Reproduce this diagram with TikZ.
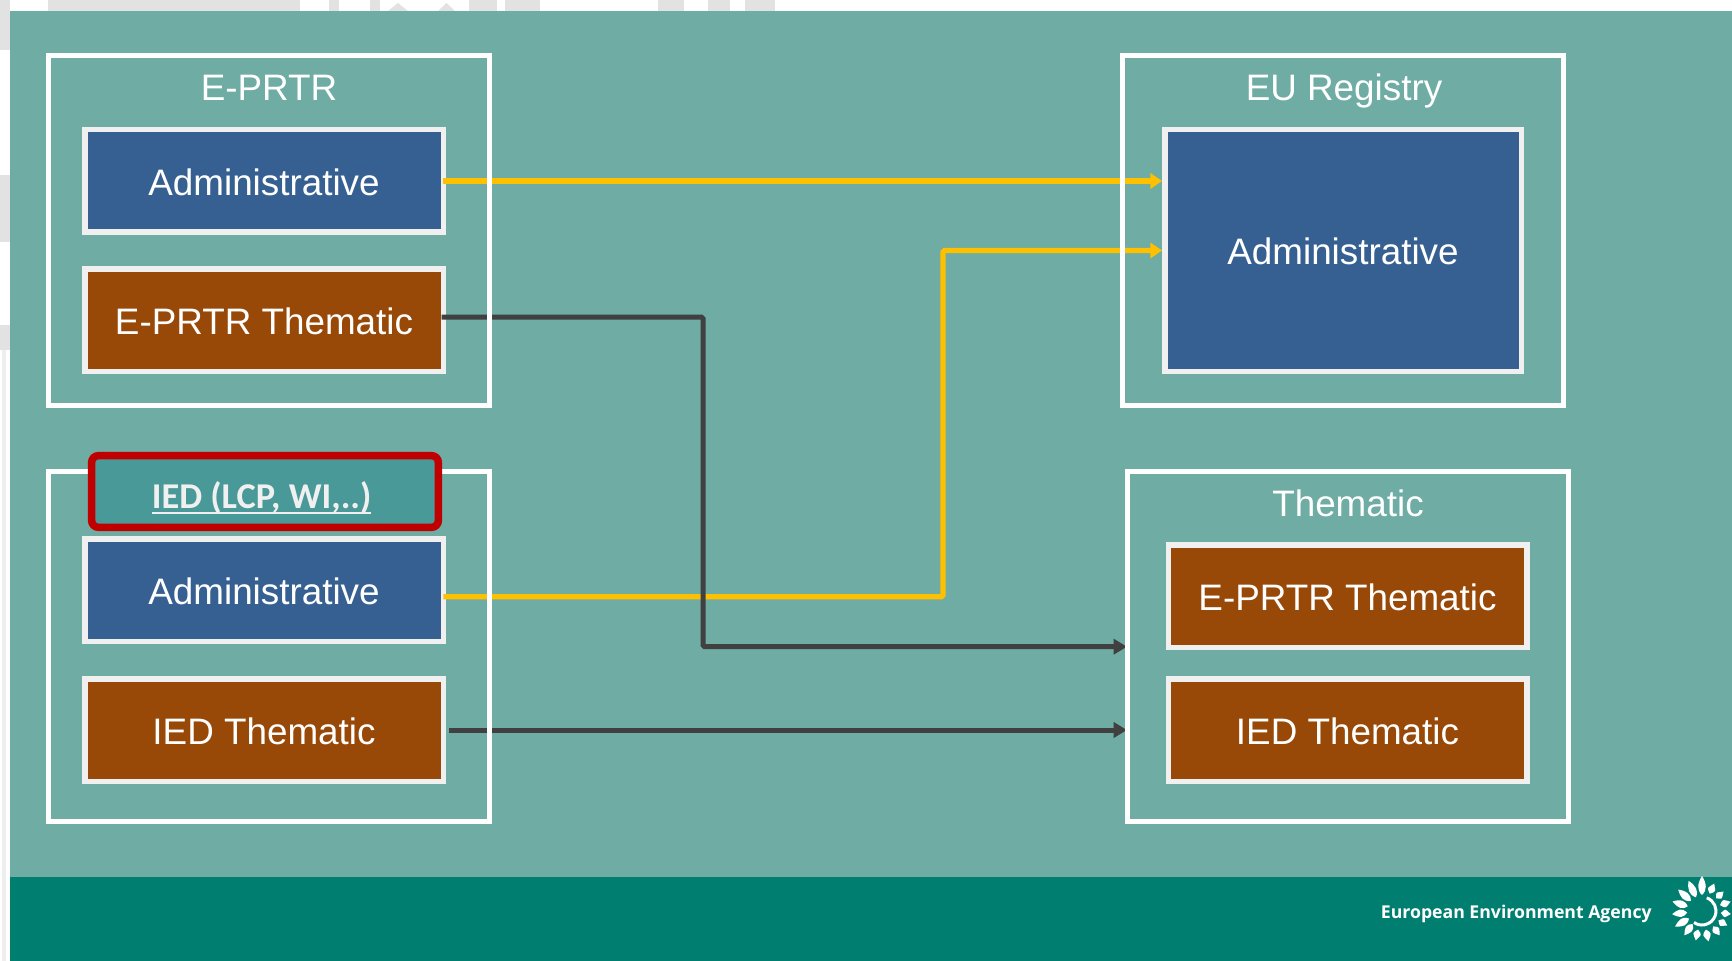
\documentclass[tikz,border=0pt]{standalone}
\usepackage{fontspec}
\setmainfont{Liberation Sans}
\newfontfamily\labelfont{Carlito}
\newfontfamily\footfont{Open Sans}
\usetikzlibrary{positioning}
\usetikzlibrary{backgrounds}
\usetikzlibrary{arrows.meta}
\definecolor{panelgreen}{HTML}{6EACA4}
\definecolor{bandgreen}{HTML}{007F71}
\definecolor{admblue}{HTML}{376092}
\definecolor{thmbrown}{HTML}{984807}
\definecolor{boxline}{HTML}{F0F0F0}
\definecolor{linkyellow}{HTML}{FFC000}
\definecolor{linkdark}{HTML}{404040}
\definecolor{tagfill}{HTML}{4A9999}
\definecolor{tagred}{HTML}{C00000}
\definecolor{scrap}{HTML}{E2E2E2}
\newcommand{\tagline}[1]{\setbox0\hbox{#1}\rlap{\rule[-3.4pt]{\wd0}{1.3pt}}#1}
\pgfdeclarelayer{frames}
\pgfsetlayers{main,frames}
\tikzset{
	frame/.style = {draw = white,line width = 3pt,rectangle,outer sep = 0pt,minimum width = 264.6pt,minimum height = 210pt},
	admbox/.style = {fill = admblue,draw = boxline,line width = 3.3pt,rectangle,outer sep = 0pt,text = white,font = \fontsize{22.1}{26}\selectfont,text height = 17.2pt,text depth = 0pt,minimum width = 215.1pt,minimum height = 61.5pt},
	thmbox/.style = {admbox,fill = thmbrown},
	frametitle/.style = {text = white,font = \fontsize{22.1}{26}\selectfont,anchor = base,inner sep = 0pt},
	yellowlink/.style = {draw = linkyellow,line width = 3.2pt,rounded corners = 1pt,-{Triangle[length = 7pt,width = 9pt]}},
	darklink/.style = {draw = linkdark,line width = 3pt,rounded corners = 1pt,-{Triangle[length = 8pt,width = 9pt]}},
	petal/.style = {fill = white,draw = none}
}
\begin{document}
\begin{tikzpicture}[x = 0.6pt,y = -0.6pt]
	\useasboundingbox (0,0) rectangle (1732,961);

	% what is left of the page behind the slide
	\foreach \xa/\xb in {48/300,329/339,370/380,469/497,505/540,658/684,708/730,745/775}
	{
		\fill[scrap] (\xa,0) rectangle (\xb,11);
	}
	\foreach \xa/\xb in {388/408,438/455}
	{
		\fill[scrap] (\xa,11) -- ({(\xa+\xb)/2},3) -- (\xb,11) -- cycle;
	}
	\foreach \ya/\yb in {0/50,175/242,325/350}
	{
		\fill[scrap] (0,\ya) rectangle (10,\yb);
	}
	\fill[scrap!60] (2,350) rectangle (6,961);

	\fill[panelgreen] (10,11) rectangle (1732,877);
	\fill[bandgreen] (10,877) rectangle (1732,961);

	\node[admbox] at (264,181) (eadm) {Administrative};
	\node[thmbox,below = 22.2pt of eadm] (ethm) {E-PRTR Thematic};
	\node[admbox] at (264,590) (iadm) {Administrative};
	\node[thmbox,below = 22.5pt of iadm] (ithm) {IED Thematic};
	\node[admbox,minimum width = 213.9pt,minimum height = 145pt] at (1343,250.5) (radm) {Administrative};
	\node[thmbox] at (1347.5,596) (tethm) {E-PRTR Thematic};
	\node[thmbox] at (1347.5,730) (tithm) {IED Thematic};

	\begin{pgfonlayer}{frames}
		\node[frame] at (269,230.5) (eframe) {};
		\node[frame] at (269,646) (iframe) {};
		\node[frame] at (1343,231) (rframe) {};
		\node[frame] at (1347.5,646) (tframe) {};

		\node[frametitle] at (269,100.5) (etitle) {E-PRTR};
		\node[frametitle] at (1344,100.5) (rtitle) {EU Registry};
		\node[frametitle] at (1348,516) (ttitle) {Thematic};

		\node[fill = tagfill,draw = tagred,line width = 4.5pt,rectangle,rounded corners = 4pt,outer sep = 0pt,inner sep = 0pt,minimum width = 208pt,minimum height = 43pt,text = boxline,font = \labelfont\bfseries\fontsize{21.8}{25}\selectfont,text height = 25pt,text depth = 5pt] at (265,491.5) (itag) {\tagline{IED (LCP, WI,..)}\rule{4pt}{0pt}};
	\end{pgfonlayer}

	\coordinate (yturn) at (943,596.7);
	\coordinate (dturn) at (703,317);
	\coordinate (ddown) at (703,646.7);

	\draw[yellowlink,shorten >= 1.6pt] (eadm.east) -- (eadm.east -| radm.west);
	\draw[yellowlink,shorten >= 1.6pt] (yturn -| iadm.east) -- (yturn) |- (radm.west);
	\draw[darklink,shorten <= -1pt] (dturn -| ethm.east) -- (dturn) -- (ddown) -- (ddown -| tframe.west);
	\draw[darklink,shorten <= 3.5pt] (ithm.east) -- (ithm.east -| tframe.west);

	\node[text = white,font = \footfont\bfseries\fontsize{10.6}{13}\selectfont,anchor = base east,inner sep = 0pt] at (1652,918) (eea) {European Environment Agency};

	% sun of the logo
	\begin{scope}[shift = {(1702,911)},y = 0.6pt]
		\foreach \ang/\rin/\rad in {90/16/35,66/19/30,42/19/29,18/19/30,-6/19/29,-30/19/29,-54/19/30,-78/19/31,-102/19/30,-126/16/30,-150/15/31,-174/15/30,162/15/31,138/15/32,114/15/33}
		{
			\fill[petal,rotate = \ang] (\rin,0) .. controls (\rin+5,5.5) and (\rad-7,4.5) .. (\rad,0) .. controls (\rad-7,-4.5) and (\rin+5,-5.5) .. (\rin,0) -- cycle;
		}
		\draw[white,line width = 1.8pt] (70:14) arc (70:-125:14);
	\end{scope}
\end{tikzpicture}
\end{document}
